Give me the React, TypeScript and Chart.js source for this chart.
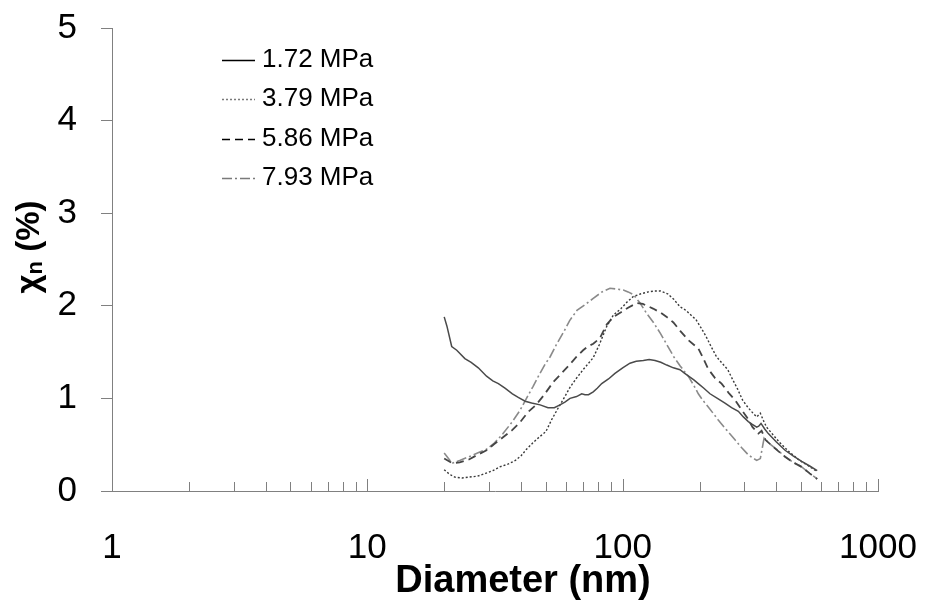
import React, { useEffect, useRef } from 'react';
import { Chart, registerables } from 'chart.js';

Chart.register(...registerables);

const FONT = '"Liberation Sans", Arial, Helvetica, sans-serif';

// ---- axis ticks ----
const xTickValues = [
  1, 2, 3, 4, 5, 6, 7, 8, 9,
  10, 20, 30, 40, 50, 60, 70, 80, 90,
  100, 200, 300, 400, 500, 600, 700, 800, 900,
  1000,
];
const xDecadeLabels = [1, 10, 100, 1000];
const yTickValues = [0, 1, 2, 3, 4, 5];
const xTitle = 'Diameter (nm)';

// ---- series ----
const seriesLabels = ['1.72 MPa', '3.79 MPa', '5.86 MPa', '7.93 MPa'];

const d172 = [20, 20.5, 21.4, 22.4, 24.1, 25.5, 27.2, 29.3, 31, 32.6, 34.6, 37, 39, 41.5, 44, 47.5, 51, 54, 56.8, 59.4, 62.2, 66, 69.1, 71.2, 73.5, 76.7, 79.5, 82.8, 88, 93.3, 100, 106.8, 113, 120.5, 127, 133.9, 141, 148.8, 158, 167.7, 175, 183.5, 190, 197.8, 208, 219.8, 235, 251.6, 267, 283.8, 297, 310.5, 322, 334.9, 341, 348.2, 360, 371.9, 400, 432.5, 465, 502.6, 540, 578];
const v172 = [1.88, 1.78, 1.56, 1.52, 1.43, 1.39, 1.33, 1.24, 1.19, 1.16, 1.11, 1.05, 1.01, 0.97, 0.95, 0.93, 0.90, 0.90, 0.93, 0.96, 1.00, 1.02, 1.05, 1.04, 1.04, 1.07, 1.11, 1.16, 1.21, 1.27, 1.33, 1.38, 1.40, 1.41, 1.42, 1.41, 1.39, 1.36, 1.33, 1.31, 1.27, 1.23, 1.20, 1.16, 1.11, 1.05, 1.00, 0.95, 0.90, 0.86, 0.80, 0.75, 0.72, 0.69, 0.70, 0.73, 0.67, 0.62, 0.53, 0.44, 0.38, 0.32, 0.27, 0.22];

const d379 = [20, 21, 22, 23.5, 25, 27, 29, 31, 33, 35.5, 38, 40, 42, 44.5, 47, 50, 52.7, 56, 59.4, 62.2, 66, 70, 73, 76.7, 81, 86.7, 92, 98.5, 104, 110, 118, 126, 133, 140.7, 150, 158.5, 167.7, 177, 185, 193.7, 203, 212, 222, 233, 245, 258, 270, 282, 295, 310, 324, 335, 346, 356, 366, 390, 413, 450, 493, 535, 578];
const v379 = [0.23, 0.18, 0.15, 0.14, 0.15, 0.16, 0.19, 0.22, 0.26, 0.29, 0.33, 0.38, 0.45, 0.52, 0.58, 0.64, 0.77, 0.90, 1.02, 1.12, 1.22, 1.31, 1.37, 1.44, 1.58, 1.78, 1.90, 1.97, 2.04, 2.10, 2.13, 2.15, 2.16, 2.16, 2.13, 2.07, 1.99, 1.95, 1.90, 1.85, 1.76, 1.67, 1.56, 1.45, 1.38, 1.31, 1.20, 1.10, 0.98, 0.90, 0.84, 0.80, 0.84, 0.76, 0.69, 0.60, 0.52, 0.42, 0.33, 0.27, 0.21];

const d586 = [20, 21.5, 23, 25, 27, 29.3, 31.5, 34, 37, 39.6, 42.5, 45.8, 49, 53.6, 58, 62.2, 66, 70, 73, 76.7, 81.4, 86.7, 92, 98.5, 105, 113.7, 120, 131.5, 140, 148.8, 158, 168, 180.6, 190, 197.8, 207, 216, 230, 244, 260, 276, 290, 306, 322.6, 340, 350, 363, 395, 432.5, 465, 502.6, 540, 578];
const v586 = [0.35, 0.30, 0.31, 0.34, 0.39, 0.44, 0.51, 0.58, 0.66, 0.74, 0.85, 0.93, 1.03, 1.18, 1.28, 1.37, 1.45, 1.52, 1.56, 1.59, 1.65, 1.80, 1.88, 1.93, 1.98, 2.03, 2.02, 1.97, 1.93, 1.88, 1.82, 1.73, 1.63, 1.58, 1.54, 1.43, 1.32, 1.22, 1.16, 1.06, 0.98, 0.89, 0.80, 0.69, 0.62, 0.65, 0.55, 0.46, 0.37, 0.31, 0.26, 0.19, 0.13];

const d793 = [20, 21.5, 23, 25, 27, 29.3, 31.5, 34, 37, 39.6, 42, 44.6, 47, 49.7, 52, 55, 58.8, 62, 66.2, 71, 76.7, 83, 89.2, 95, 100.6, 105, 110.2, 117, 124, 132, 140.7, 149, 158.5, 168, 180.6, 190, 197.8, 206, 216, 226, 236.3, 255, 275.9, 292, 310.5, 322, 334.9, 346, 358, 380, 405, 432.5, 465, 502.6, 540, 578];
const v793 = [0.41, 0.30, 0.33, 0.37, 0.41, 0.45, 0.52, 0.62, 0.75, 0.87, 1.00, 1.13, 1.25, 1.37, 1.45, 1.58, 1.72, 1.84, 1.95, 2.01, 2.08, 2.15, 2.19, 2.18, 2.17, 2.15, 2.12, 2.03, 1.92, 1.82, 1.70, 1.58, 1.45, 1.35, 1.24, 1.14, 1.05, 0.98, 0.91, 0.84, 0.77, 0.66, 0.55, 0.47, 0.39, 0.36, 0.33, 0.35, 0.57, 0.50, 0.44, 0.37, 0.31, 0.26, 0.19, 0.13];

const seriesD = [d172, d379, d586, d793];
const seriesV = [v172, v379, v586, v793];
const seriesColors = ['#4a4a4a', '#3a3a3a', '#454545', '#8a8a8a'];
const legendColors = ['#000000', '#7a7a7a', '#000000', '#7a7a7a'];
const seriesDash: number[][] = [[], [2, 2], [8, 5], [10, 3, 2, 3]];
const seriesWidth = [1.5, 1.4, 1.8, 1.6];

const AXIS_COLOR = '#808080';

const toPoints = (d: number[], v: number[]) => d.map((x, i) => ({ x, y: v[i] }));

const zeroPadding = (scale: any) => {
  scale.paddingTop = 0;
  scale.paddingBottom = 0;
  scale.paddingLeft = 0;
  scale.paddingRight = 0;
};

const inwardXTicks = {
  id: 'inwardXTicks',
  afterDraw(chart: any) {
    const xs = chart.scales.x;
    const ctx = chart.ctx;
    const bottom = chart.chartArea.bottom;
    ctx.save();
    ctx.strokeStyle = AXIS_COLOR;
    ctx.lineWidth = 1;
    xs.ticks.forEach((t: any) => {
      const v = t.value;
      if (v <= 1) return;
      const major = xDecadeLabels.includes(v);
      const len = major ? 12 : 9;
      const px = Math.round(xs.getPixelForValue(v)) + 0.5;
      ctx.beginPath();
      ctx.moveTo(px, bottom);
      ctx.lineTo(px, bottom - len);
      ctx.stroke();
    });
    ctx.restore();
  },
};

const titlesPlugin = {
  id: 'axisTitles',
  afterDraw(chart: any) {
    const ctx = chart.ctx;
    // x title
    ctx.save();
    ctx.fillStyle = '#000';
    ctx.font = `bold 38px ${FONT}`;
    ctx.textAlign = 'center';
    ctx.textBaseline = 'middle';
    ctx.fillText(xTitle, 523, 582);
    ctx.restore();

    // y title with subscript n
    const cy = 247;
    const cx = 30;
    const big = `bold 33px ${FONT}`;
    const small = `bold 22px ${FONT}`;
    ctx.save();
    ctx.translate(cx, cy);
    ctx.rotate(-Math.PI / 2);
    ctx.fillStyle = '#000';
    ctx.textBaseline = 'middle';
    ctx.textAlign = 'left';
    ctx.font = big;
    const w1 = ctx.measureText('\u03C7').width;
    const w3 = ctx.measureText(' (%)').width;
    ctx.font = small;
    const w2 = ctx.measureText('n').width;
    const total = w1 + w2 + w3;
    let x = -total / 2;
    ctx.font = big;
    ctx.fillText('\u03C7', x, 0);
    x += w1;
    ctx.font = small;
    ctx.fillText('n', x, 6);
    x += w2;
    ctx.font = big;
    ctx.fillText(' (%)', x, 0);
    ctx.restore();
  },
};

const legendPlugin = {
  id: 'innerLegend',
  afterDraw(chart: any) {
    const ctx = chart.ctx;
    ctx.save();
    chart.data.datasets.forEach((ds: any, i: number) => {
      const y = 60 + i * 39.3;
      ctx.beginPath();
      ctx.setLineDash(ds.borderDash || []);
      ctx.strokeStyle = legendColors[i];
      ctx.lineWidth = 1.5;
      ctx.moveTo(222, Math.round(y) + 0.5);
      ctx.lineTo(255, Math.round(y) + 0.5);
      ctx.stroke();
      ctx.setLineDash([]);
      ctx.fillStyle = '#000';
      ctx.font = `26px ${FONT}`;
      ctx.textBaseline = 'middle';
      ctx.textAlign = 'left';
      ctx.fillText(ds.label, 262, y);
    });
    ctx.restore();
  },
};

export default function App() {
  const ref = useRef<HTMLCanvasElement | null>(null);

  useEffect(() => {
    document.body.style.margin = '0';
    const canvas = ref.current;
    if (!canvas) return;
    const chart = new Chart(canvas, {
      type: 'line',
      data: {
        datasets: seriesLabels.map((label, i) => ({
          label,
          data: toPoints(seriesD[i], seriesV[i]),
          borderColor: seriesColors[i],
          backgroundColor: seriesColors[i],
          borderWidth: seriesWidth[i],
          borderDash: seriesDash[i],
          pointRadius: 0,
          pointHoverRadius: 0,
          tension: 0,
          fill: false,
        })),
      },
      options: {
        responsive: false,
        animation: false,
        events: [],
        layout: { padding: { top: 28, right: 47, left: 0, bottom: 0 } },
        plugins: {
          legend: { display: false },
          tooltip: { enabled: false },
        },
        scales: {
          x: {
            type: 'logarithmic',
            min: 1,
            max: 1000,
            afterBuildTicks: (scale: any) => {
              scale.ticks = xTickValues.map((v) => ({ value: v }));
            },
            afterFit: (scale: any) => {
              scale.height = 114;
              zeroPadding(scale);
            },
            grid: { display: false, drawTicks: false },
            border: { display: true, color: AXIS_COLOR, width: 1 },
            ticks: {
              autoSkip: false,
              maxRotation: 0,
              padding: 36,
              color: '#000',
              font: { family: FONT, size: 35 },
              callback: (v: any) => (xDecadeLabels.includes(Number(v)) ? String(v) : ''),
            },
          },
          y: {
            type: 'linear',
            min: 0,
            max: 5,
            afterBuildTicks: (scale: any) => {
              scale.ticks = yTickValues.map((v) => ({ value: v }));
            },
            afterFit: (scale: any) => {
              scale.width = 112;
              zeroPadding(scale);
            },
            grid: {
              display: true,
              drawOnChartArea: false,
              drawTicks: true,
              tickLength: 11,
              color: AXIS_COLOR,
            },
            border: { display: true, color: AXIS_COLOR, width: 1 },
            ticks: {
              padding: 24,
              color: '#000',
              font: { family: FONT, size: 35 },
              callback: (v: any) => String(v),
            },
          },
        },
      },
      plugins: [inwardXTicks, titlesPlugin, legendPlugin],
    });
    return () => chart.destroy();
  }, []);

  return <canvas ref={ref} width={925} height={605} style={{ display: 'block' }} />;
}
